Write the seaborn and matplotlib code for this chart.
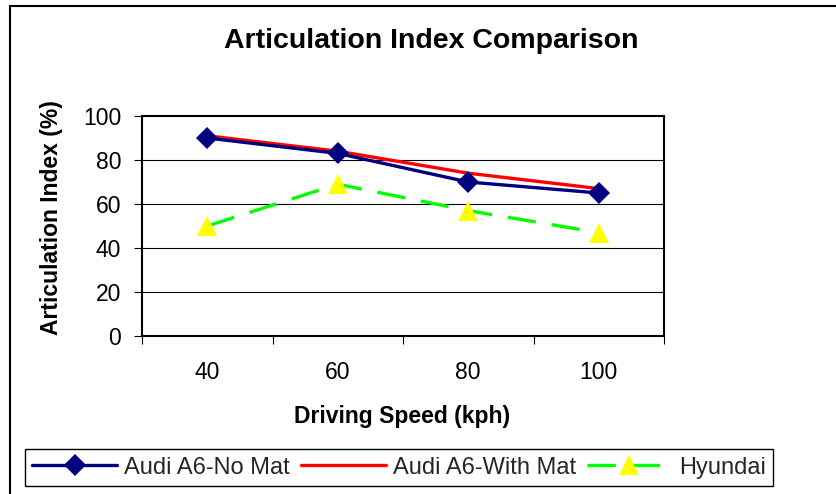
import matplotlib
matplotlib.use("Agg")
import matplotlib.pyplot as plt
from matplotlib import font_manager
from matplotlib.patches import Rectangle
import numpy as np
import pandas as pd
import seaborn as sns

# Chart data
speeds = ["40", "60", "80", "100"]
audi_no_mat = [90, 83, 70, 65]
audi_with_mat = [91, 84, 74, 67]
hyundai = [50, 69, 57, 47]
y_ticks = [0, 20, 40, 60, 80, 100]

sns.set_theme(style="white")
plt.rcParams["font.family"] = ["Liberation Sans", "DejaVu Sans"]

try:
    font_manager.findfont("Liberation Sans Narrow", fallback_to_default=False)
    legend_family = "Liberation Sans Narrow"
    legend_size = 21
except Exception:
    legend_family = "Liberation Sans"
    legend_size = 17

W, H = 836, 494
fig = plt.figure(figsize=(W / 100, H / 100), dpi=100)
fig.patch.set_facecolor("white")

# plot area in pixel terms
left, right, top, bottom = 142, 664, 116, 336
ax = fig.add_axes([left / W, 1 - bottom / H, (right - left) / W, (bottom - top) / H])
ax.set_facecolor("white")

pos = np.arange(len(speeds))
df = pd.DataFrame({
    "pos": np.tile(pos, 3),
    "value": audi_no_mat + audi_with_mat + hyundai,
    "series": ["Audi A6-No Mat"] * 4 + ["Audi A6-With Mat"] * 4 + ["Hyundai"] * 4,
})

sub = df[df.series == "Audi A6-No Mat"]
sns.lineplot(data=sub, x="pos", y="value", ax=ax, sort=False, color="#000080",
             linewidth=2.4, marker="D", markersize=11, markeredgecolor="#000080",
             markeredgewidth=0, label="Audi A6-No Mat", zorder=4)
sub = df[df.series == "Audi A6-With Mat"]
sns.lineplot(data=sub, x="pos", y="value", ax=ax, sort=False, color="#FF0000",
             linewidth=2.4, label="Audi A6-With Mat", zorder=3)
sub = df[df.series == "Hyundai"]
sns.lineplot(data=sub, x="pos", y="value", ax=ax, sort=False, color="#00FF00",
             linewidth=2.4, linestyle=(0, (8.5, 4.8)), marker="^", markersize=15,
             markerfacecolor="#FFFF00", markeredgecolor="#FFFF00", markeredgewidth=0,
             label="Hyundai", zorder=5)

ax.set_xlim(-0.5, len(speeds) - 0.5)
ax.set_ylim(0, 100)
ax.set_yticks(y_ticks)
ax.set_yticklabels([str(t) for t in y_ticks], fontsize=16.5)
for t in y_ticks[1:-1]:
    ax.axhline(t, color="black", linewidth=0.8, zorder=1)

# category ticks: marks at boundaries, labels at centers
ax.set_xticks(np.arange(-0.5, len(speeds), 1.0))
ax.set_xticklabels([""] * (len(speeds) + 1))
ax.set_xticks(pos, minor=True)
ax.set_xticklabels(speeds, minor=True, fontsize=16.5)
ax.tick_params(axis="x", which="major", direction="out", length=6, width=0.8,
               color="black", bottom=True)
ax.tick_params(axis="x", which="minor", length=0, pad=18, labelcolor="black")
ax.tick_params(axis="y", direction="out", length=6, width=0.8, color="black",
               left=True, pad=9, labelcolor="black")

for s in ax.spines.values():
    s.set_color("black")
    s.set_linewidth(1.5)
    s.set_visible(True)

ax.set_xlabel("Driving Speed (kph)", fontsize=16.5, fontweight="bold", color="black")
ax.set_ylabel("Articulation Index (%)", fontsize=16.5, fontweight="bold", color="black")
ax.xaxis.set_label_coords((402 - left) / (right - left), (bottom - 405) / (bottom - top))
ax.yaxis.set_label_coords((63 - left) / (right - left), 0.5 + (226 - 218) / (bottom - top))

fig.text(431 / W, 1 - 41 / H, "Articulation Index Comparison", ha="center",
         va="center", fontsize=20.5, fontweight="bold", color="black")

handles, labels = ax.get_legend_handles_labels()
ax.get_legend().remove()
leg = fig.legend(handles, labels, loc="center",
                 bbox_to_anchor=((26 + 772) / 2 / W, 1 - 467.5 / H),
                 ncol=3, frameon=True, fancybox=False, framealpha=1,
                 edgecolor="black", numpoints=1, handlelength=3.6,
                 handletextpad=0.3, columnspacing=0.45, borderpad=0.3,
                 borderaxespad=0, prop={"family": legend_family, "size": legend_size})
leg.get_frame().set_linewidth(1.0)

# outer chart border
fig.patches.append(Rectangle((10 / W, -0.1), 1.2, 1 - 6 / H + 0.1,
                             transform=fig.transFigure, fill=False,
                             edgecolor="black", linewidth=1.5, clip_on=False))

fig.savefig("out.png", dpi=100, facecolor="white")
